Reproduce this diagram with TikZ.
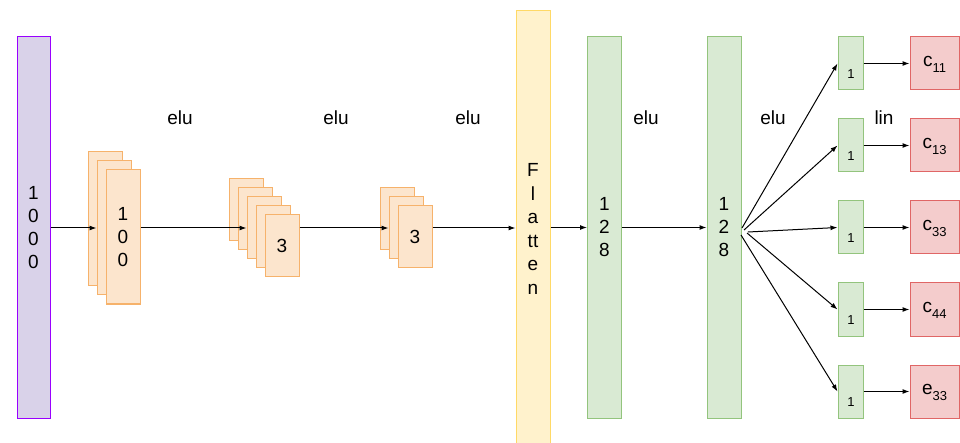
\documentclass[tikz,border=0pt]{standalone}
\usepackage{fontspec}
\setmainfont{Liberation Sans}
\usetikzlibrary{arrows.meta}
\definecolor{purpF}{HTML}{D9D2E9}
\definecolor{purpS}{HTML}{9900FF}
\definecolor{orF}{HTML}{FCE5CD}
\definecolor{orS}{HTML}{F6B26B}
\definecolor{yeF}{HTML}{FFF2CC}
\definecolor{yeS}{HTML}{FFD966}
\definecolor{grF}{HTML}{D9EAD3}
\definecolor{grS}{HTML}{93C47D}
\definecolor{reF}{HTML}{F4CCCC}
\definecolor{reS}{HTML}{E06666}
\tikzset{
  box/.style={rectangle, draw, line width=1pt, inner sep=0pt, align=center,
    font=\fontsize{19}{23}\selectfont},
  inbox/.style={box, fill=purpF, draw=purpS, minimum width=33pt, minimum height=381pt},
  convbig/.style={box, fill=orF, draw=orS, minimum width=34pt, minimum height=134pt},
  convsm/.style={box, fill=orF, draw=orS, minimum width=34pt, minimum height=62pt},
  flatbox/.style={box, fill=yeF, draw=yeS, minimum width=34pt, minimum height=449pt},
  densebox/.style={box, fill=grF, draw=grS, minimum width=34pt, minimum height=381pt},
  unitbox/.style={box, fill=grF, draw=grS, minimum width=25pt, minimum height=53pt},
  outbox/.style={box, fill=reF, draw=reS, minimum width=49pt, minimum height=53pt},
  lbl/.style={inner sep=0pt, align=center, font=\fontsize{19}{23.5}\selectfont},
  onelbl/.style={inner sep=0pt, font=\fontsize{13}{13}\selectfont},
  conn/.style={line width=1pt, -{Latex[length=7pt,width=5pt]}},
}
\newcommand{\subt}[1]{\raisebox{-6pt}{\fontsize{13}{13}\selectfont #1}}
\begin{document}
\begin{tikzpicture}[x=1pt,y=-1pt]
\useasboundingbox (0,0) rectangle (960,443);
% input
\node[inbox] (in) at (33.5,227.5) {1\\0\\0\\0};
% conv1
\node[convbig] (c1a) at (105,219) {};
\node[convbig] (c1b) at (114,228) {};
\node[convbig] (c1c) at (123,237) {1\\0\\0};
% conv2
\node[convsm] (c2a) at (246,210) {};
\node[convsm] (c2b) at (255,219) {};
\node[convsm] (c2c) at (264,228) {};
\node[convsm] (c2d) at (273,237) {};
\node[convsm] (c2e) at (282,246) {3};
% conv3
\node[convsm] (c3a) at (397,219) {};
\node[convsm] (c3b) at (406,228) {};
\node[convsm] (c3c) at (415,237) {3};
% flatten
\node[flatbox] (fl) at (533,235.5) {};
\node[lbl] (fltxt) at (533,229) {F\\l\\a\\tt\\e\\n};
% dense
\node[densebox] (d1) at (604.5,227.5) {1\\2\\8};
\node[densebox] (d2) at (724,227.5) {1\\2\\8};
% units and outputs
\foreach \i/\y/\t in {1/63.5/c\subt{11}, 2/145.5/c\subt{13}, 3/227.5/c\subt{33}, 4/309.5/c\subt{44}, 5/391.5/e\subt{33}}{
  \node[unitbox] (u\i) at (850.5,\y) {};
  \node[onelbl] (u\i t) at (851,\y+11) {1};
  \node[outbox] (o\i) at (934.5,\y) {};
  \node[lbl] (o\i t) at (934.5,\y+1) {\t};
  \draw[conn] (u\i.east) -- (o\i.west);
}
% activation labels
\node[lbl] (e1) at (180,118) {elu};
\node[lbl] (e2) at (336,118) {elu};
\node[lbl] (e3) at (468,118) {elu};
\node[lbl] (e4) at (646,118) {elu};
\node[lbl] (e5) at (773,118) {elu};
\node[lbl] (l1) at (884,118) {lin};
% main connectors
\draw[conn] (in.east |- c1b.west) -- (c1b.west);
\draw[conn] (c1c.east |- c2c.west) -- (c2c.west);
\draw[conn] (c2e.east |- c3b.west) -- (c3b.west);
\coordinate (flin) at (fl.west |- c3b.west);
\draw[conn] (c3c.east |- c3b.west) -- (flin);
\coordinate (flout) at (fl.east |- d1.west);
\draw[conn] (flout) -- (d1.west);
\draw[conn] (d1.east) -- (d2.west);
% fan-out
\coordinate (s1) at (742,228);
\coordinate (s2) at (744,230);
\coordinate (s3) at (748,232);
\coordinate (s4) at (747,233);
\coordinate (s5) at (741,235);
\draw[conn] (s1) -- (u1.west);
\draw[conn] (s2) -- (u2.west);
\draw[conn] (s3) -- (u3.west);
\draw[conn] (s4) -- (u4.west);
\draw[conn] (s5) -- (u5.west);
\end{tikzpicture}
\end{document}
